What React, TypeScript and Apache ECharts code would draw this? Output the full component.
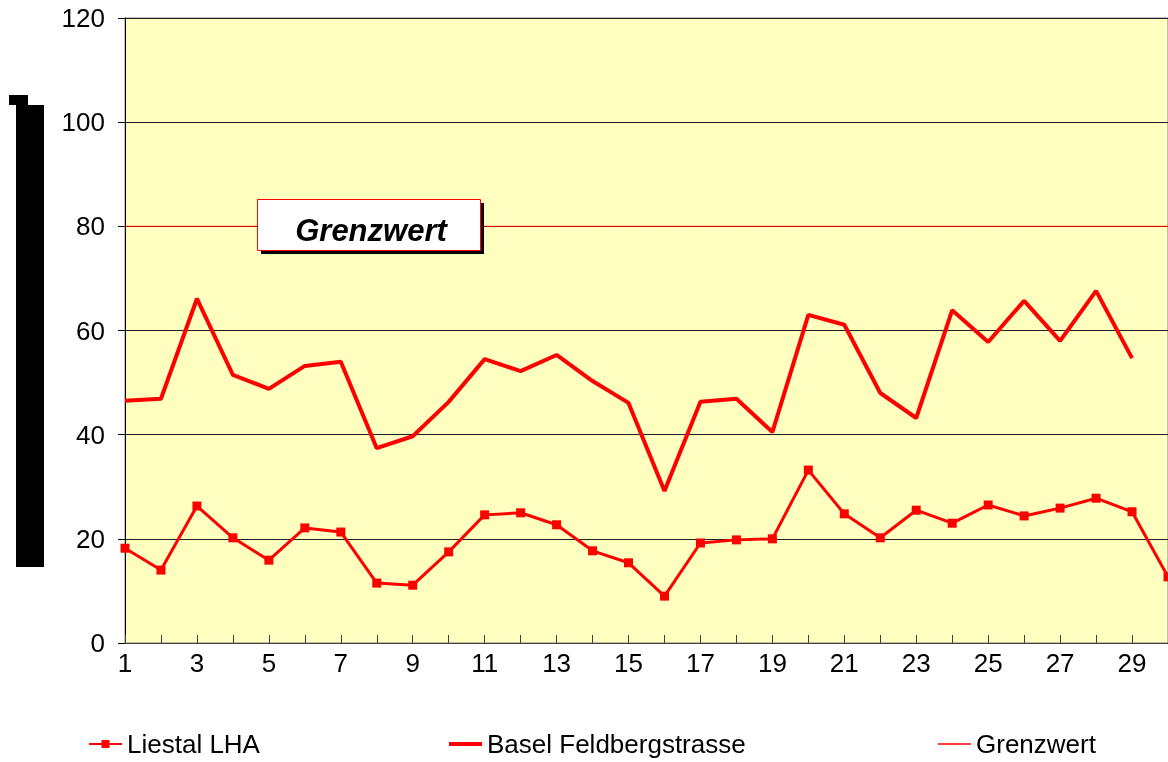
import React, { useEffect, useRef } from "react";
import * as echarts from "echarts";

const categories = Array.from({ length: 30 }, (_, i) => String(i + 1));
const liestal = [18.2, 14.0, 26.3, 20.2, 15.9, 22.1, 21.3, 11.5, 11.1, 17.5, 24.6, 25.0, 22.7, 17.7, 15.4, 9.0, 19.2, 19.8, 20.0, 33.2, 24.8, 20.2, 25.5, 23.0, 26.5, 24.4, 25.9, 27.8, 25.2, 12.7];
const basel = [46.5, 46.9, 66.1, 51.5, 48.8, 53.2, 54.0, 37.4, 39.7, 46.3, 54.5, 52.2, 55.3, 50.3, 46.1, 29.2, 46.3, 46.9, 40.5, 63.0, 61.1, 48.0, 43.2, 63.9, 57.8, 65.7, 58.0, 67.6, 54.7, null];
const grenzwert = Array.from({ length: 30 }, () => 80);
const yTicks = { min: 0, max: 120, interval: 20 };

export default function App() {
  const ref = useRef<HTMLDivElement>(null);
  useEffect(() => {
    const chart = echarts.init(ref.current!, null, { renderer: "svg" });
    const font = "Liberation Sans, Arial, sans-serif";
    const legendText = { fontSize: 26, lineHeight: 26, color: "#000", fontFamily: font };
    const legendBase = { top: 731, padding: 0, itemWidth: 33, itemGap: 7, textStyle: legendText };
    chart.setOption({
      animation: false,
      textStyle: { fontFamily: font },
      grid: {
        left: 125,
        top: 18,
        width: 1044,
        height: 625,
        show: true,
        backgroundColor: "#FFFFC0",
        borderColor: "#808080",
        borderWidth: 1,
      },
      xAxis: {
        type: "category",
        data: categories,
        boundaryGap: false,
        axisLine: { lineStyle: { color: "#404040", width: 1 } },
        axisTick: { show: true, inside: true, length: 8, interval: 0, lineStyle: { color: "#404040" } },
        axisLabel: { interval: 1, color: "#000", fontSize: 26, margin: 7, fontFamily: font },
        splitLine: { show: false },
      },
      yAxis: {
        type: "value",
        min: yTicks.min,
        max: yTicks.max,
        interval: yTicks.interval,
        axisLine: { show: true, lineStyle: { color: "#000", width: 1 } },
        axisTick: { show: true, length: 7, lineStyle: { color: "#000" } },
        axisLabel: { color: "#000", fontSize: 26, margin: 20, fontFamily: font },
        splitLine: { show: true, lineStyle: { color: "#202020", width: 1 } },
      },
      legend: [
        { ...legendBase, data: ["Liestal LHA"], left: 88, itemHeight: 10 },
        { ...legendBase, data: [{ name: "Basel Feldbergstrasse", icon: "rect" }], left: 449, itemHeight: 4 },
        { ...legendBase, data: [{ name: "Grenzwert", icon: "rect" }], left: 938, itemHeight: 1.5 },
      ],
      series: [
        {
          name: "Grenzwert",
          type: "line",
          data: grenzwert,
          symbol: "none",
          lineStyle: { color: "#FF0000", width: 1 },
          itemStyle: { color: "#FF0000" },
          z: 2,
        },
        {
          name: "Basel Feldbergstrasse",
          type: "line",
          data: basel,
          symbol: "none",
          lineStyle: { color: "#FF0000", width: 4 },
          itemStyle: { color: "#FF0000" },
          z: 3,
        },
        {
          name: "Liestal LHA",
          type: "line",
          data: liestal,
          symbol: "rect",
          symbolSize: 9,
          lineStyle: { color: "#FF0000", width: 3 },
          itemStyle: { color: "#FF0000" },
          z: 4,
        },
      ],
      graphic: [
        { type: "rect", shape: { x: 16, y: 105, width: 28, height: 462 }, style: { fill: "#000" } },
        { type: "rect", shape: { x: 9, y: 95, width: 19, height: 10 }, style: { fill: "#000" } },
        { type: "rect", shape: { x: 261, y: 203, width: 223, height: 51 }, style: { fill: "#000" }, z: 100 },
        { type: "rect", shape: { x: 257.5, y: 199.5, width: 223, height: 51 }, style: { fill: "#fff", stroke: "#FF0000", lineWidth: 1 }, z: 101 },
        {
          type: "text",
          x: 371,
          y: 230,
          style: {
            text: "Grenzwert",
            fill: "#000",
            font: "italic bold 31px Liberation Sans, Arial, sans-serif",
            align: "center",
            verticalAlign: "middle",
          },
          z: 102,
        },
      ],
    });
    return () => chart.dispose();
  }, []);
  return <div ref={ref} style={{ position: "fixed", left: 0, top: 0, width: 1168, height: 762 }} />;
}
